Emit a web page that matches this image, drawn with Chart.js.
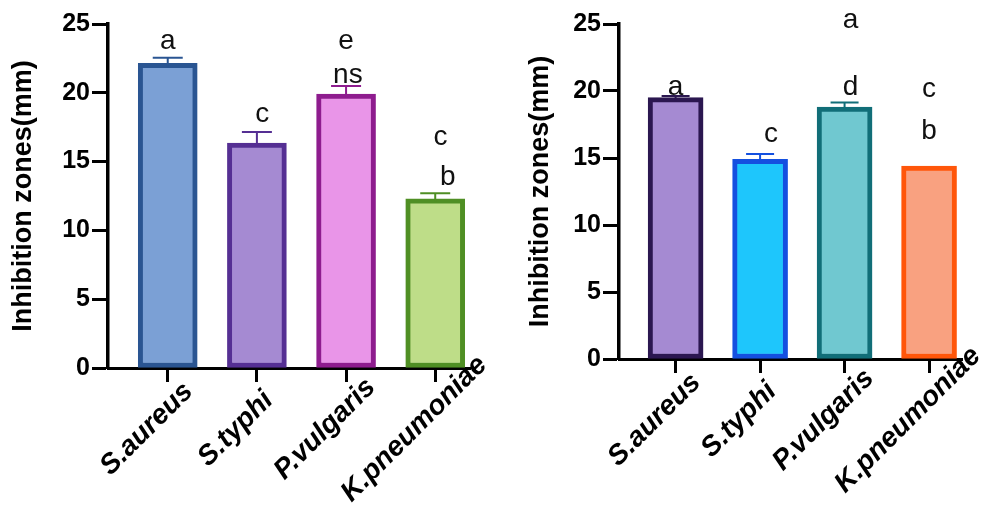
<!DOCTYPE html>
<html>
<head>
<meta charset="utf-8">
<script src="https://cdn.jsdelivr.net/npm/chart.js@4.4.1/dist/chart.umd.min.js"></script>
<style>
  html, body { margin: 0; padding: 0; background: #fff; }
  #wrap { position: relative; width: 985px; height: 511px; }
  canvas { position: absolute; top: 0; }
</style>
</head>
<body>
<div id="wrap">
  <canvas id="left" width="490" height="511" style="left:0"></canvas>
  <canvas id="right" width="495" height="511" style="left:490px"></canvas>
</div>
<script>
/* ===== DATA ===== */
const categories = ['S.aureus', 'S.typhi', 'P.vulgaris', 'K.pneumoniae'];
const yTicks = [0, 5, 10, 15, 20, 25];

// left panel
const leftMeans = [22.15, 16.35, 19.9, 12.3];
const leftErrors = [0.4, 0.8, 0.6, 0.4];
const leftLetters = ['a', 'c', 'e', 'ns', 'c', 'b'];
const leftLetterX = [1, 2.06, 3, 3.02, 4.06, 4.14];
const leftLetterY = [23.15, 17.9, 23.15, 20.7, 16.2, 13.3];

// right panel
const rightMeans = [19.5, 14.9, 18.8, 14.4];
const rightErrors = [0.12, 0.4, 0.35, 0];
const rightLetters = ['a', 'a', 'c', 'd', 'c', 'b'];
const rightLetterX = [3.07, 1, 2.13, 3.07, 4, 4];
const rightLetterY = [24.7, 19.7, 16.2, 19.7, 19.55, 16.45];

/* ===== STYLE ===== */
const FONT = "'Liberation Sans', Arial, Helvetica, sans-serif";

// error bars, significance letters, rotated category labels (centred like GraphPad)
const extras = {
  id: 'extras',
  afterDatasetsDraw(chart, args, opts) {
    const { ctx } = chart;
    const y = chart.scales.y;
    const x = chart.scales.x;
    const ds = chart.data.datasets[0];
    const meta = chart.getDatasetMeta(0);

    ctx.save();
    meta.data.forEach((bar, i) => {
      const err = opts.errors[i];
      if (!err) return;
      const top = y.getPixelForValue(ds.data[i].y + err);
      ctx.strokeStyle = ds.borderColor[i];
      ctx.lineWidth = 2;
      ctx.beginPath();
      ctx.moveTo(bar.x, bar.y + 3);
      ctx.lineTo(bar.x, top);
      ctx.moveTo(bar.x - opts.cap / 2, top);
      ctx.lineTo(bar.x + opts.cap / 2, top);
      ctx.stroke();
    });

    ctx.fillStyle = '#111';
    ctx.font = `28px ${FONT}`;
    ctx.textAlign = 'center';
    ctx.textBaseline = 'alphabetic';
    opts.letters.forEach((t, i) => {
      ctx.fillText(t, x.getPixelForValue(opts.letterX[i]), y.getPixelForValue(opts.letterY[i]));
    });
    ctx.restore();
  },
  afterDraw(chart) {
    const { ctx } = chart;
    const x = chart.scales.x;
    ctx.save();
    ctx.fillStyle = '#000';
    ctx.font = `italic bold 28px ${FONT}`;
    ctx.textAlign = 'center';
    ctx.textBaseline = 'middle';
    categories.forEach((c, i) => {
      ctx.save();
      ctx.translate(x.getPixelForValue(i + 1) - 21, x.top + 61);
      ctx.rotate(-Math.PI / 4);
      ctx.fillText(c, 0, 0);
      ctx.restore();
    });
    ctx.restore();
  }
};

function buildChart(id, cfg) {
  return new Chart(document.getElementById(id), {
    type: 'bar',
    data: {
      datasets: [{
        data: cfg.means.map((v, i) => ({ x: i + 1, y: v })),
        backgroundColor: cfg.fills,
        borderColor: cfg.borders,
        borderWidth: 5,
        borderSkipped: false,
        barThickness: cfg.barPx
      }]
    },
    options: {
      responsive: false,
      animation: false,
      layout: { padding: { top: 24, right: cfg.padRight, left: 0, bottom: 0 } },
      plugins: {
        legend: { display: false },
        tooltip: { enabled: false },
        extras: {
          errors: cfg.errors,
          cap: cfg.capPx,
          letters: cfg.letters,
          letterX: cfg.letterX,
          letterY: cfg.letterY
        }
      },
      scales: {
        x: {
          type: 'linear',
          offset: false,
          min: 0.33,
          max: 4.39,
          afterBuildTicks: s => { s.ticks = categories.map((c, i) => ({ value: i + 1 })); },
          afterFit: s => { s.height = cfg.xHeight; },
          border: { display: true, color: '#000', width: 3 },
          grid: { display: true, offset: false, drawOnChartArea: false, drawTicks: true, tickLength: 14, tickWidth: 3, tickColor: '#000' },
          ticks: { display: false, autoSkip: false }
        },
        y: {
          min: 0,
          max: 25,
          afterBuildTicks: s => { s.ticks = yTicks.map(v => ({ value: v })); },
          afterFit: s => { s.width = cfg.yWidth; },
          border: { display: true, color: '#000', width: 3.5 },
          grid: { display: true, drawOnChartArea: false, drawTicks: true, tickLength: 16, tickWidth: 3, tickColor: '#000' },
          ticks: {
            padding: 2,
            color: '#000',
            font: { family: FONT, size: 25, weight: 'bold' }
          },
          title: {
            display: true,
            text: 'Inhibition zones(mm)',
            color: '#000',
            font: { family: FONT, size: 27, weight: 'bold' },
            padding: { top: cfg.titlePad, bottom: 0 }
          }
        }
      }
    },
    plugins: [extras]
  });
}

buildChart('left', {
  means: leftMeans,
  errors: leftErrors,
  letters: leftLetters,
  letterX: leftLetterX,
  letterY: leftLetterY,
  fills: ['#7BA0D5', '#A58AD2', '#E995E8', '#BEDD88'],
  borders: ['#2A5592', '#552F93', '#8E1C8E', '#4F8F24'],
  barPx: 59,
  capPx: 30,
  yWidth: 108,
  xHeight: 143,
  padRight: 20,
  titlePad: 7
});

buildChart('right', {
  means: rightMeans,
  errors: rightErrors,
  letters: rightLetters,
  letterX: rightLetterX,
  letterY: rightLetterY,
  fills: ['#A58AD2', '#1EC6FC', '#70C8D0', '#F9A180'],
  borders: ['#2B1750', '#1450E0', '#116E78', '#FF560A'],
  barPx: 55,
  capPx: 28,
  yWidth: 129,
  xHeight: 152,
  padRight: 23,
  titlePad: 34
});
</script>
</body>
</html>
